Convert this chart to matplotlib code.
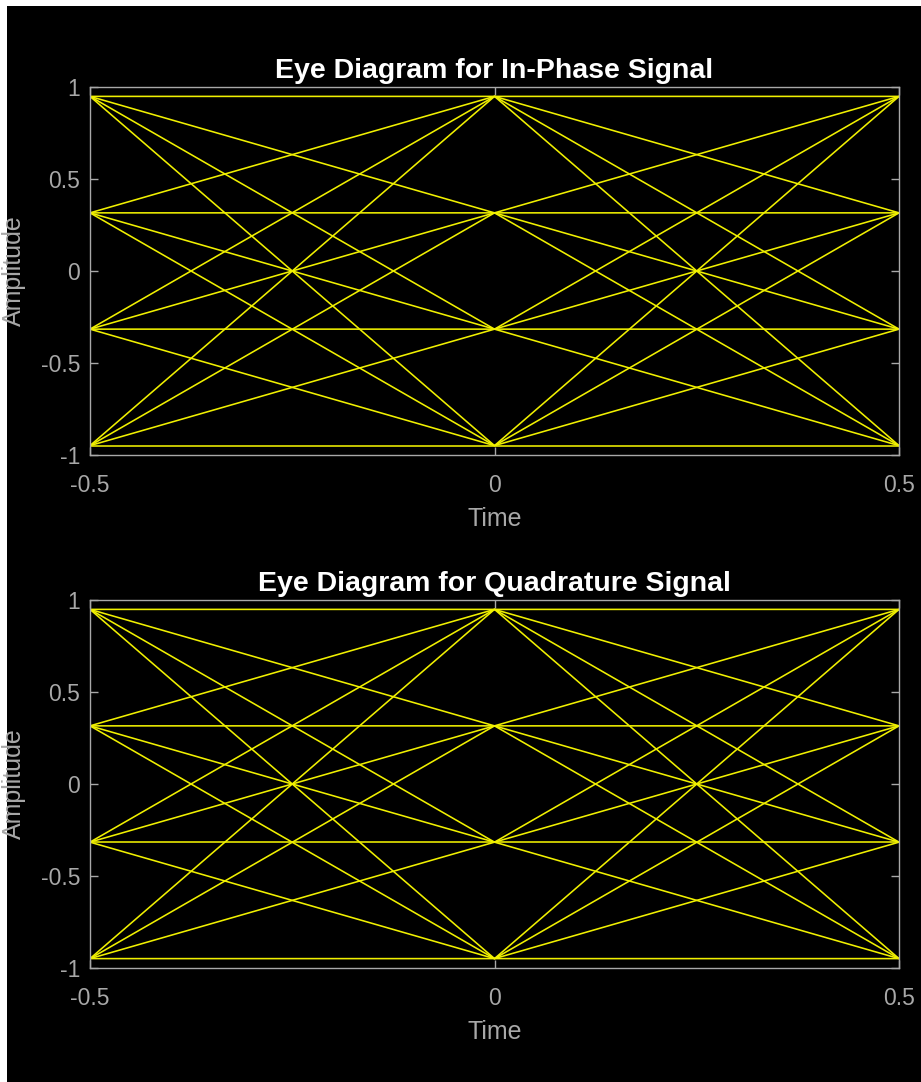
import matplotlib
matplotlib.use("Agg")
import matplotlib.pyplot as plt
from matplotlib.patches import Rectangle

# ---- data ----
time = [-0.5, 0.0, 0.5]
levels = [-0.949, -0.316, 0.316, 0.949]
# each trace: symbol indices at t=-0.5, t=0, t=0.5
traces_i = [
    (0, 0, 0), (1, 0, 1), (2, 0, 2), (3, 0, 3),
    (0, 1, 1), (1, 1, 2), (2, 1, 3), (3, 1, 0),
    (0, 2, 2), (1, 2, 3), (2, 2, 0), (3, 2, 1),
    (0, 3, 3), (1, 3, 0), (2, 3, 1), (3, 3, 2),
]
traces_q = [
    (0, 0, 3), (1, 0, 2), (2, 0, 1), (3, 0, 0),
    (0, 1, 2), (1, 1, 1), (2, 1, 0), (3, 1, 3),
    (0, 2, 1), (1, 2, 0), (2, 2, 3), (3, 2, 2),
    (0, 3, 0), (1, 3, 3), (2, 3, 2), (3, 3, 1),
]
titles = ["Eye Diagram for In-Phase Signal", "Eye Diagram for Quadrature Signal"]
xticks = [-0.5, 0, 0.5]
xticklabels = ["-0.5", "0", "0.5"]
yticks = [-1, -0.5, 0, 0.5, 1]
yticklabels = ["-1", "-0.5", "0", "0.5", "1"]

W, H = 921, 1082
fig = plt.figure(figsize=(W / 100, H / 100), dpi=100, facecolor="white")
fig.patches.append(Rectangle((7 / W, 0), 1, 1 - 6 / H, transform=fig.transFigure,
                             facecolor="black", edgecolor="none", zorder=-10))

font = ["Liberation Sans", "DejaVu Sans"]
gray = "#A8A8A8"
yellow = "#F0F000"

boxes = [(87, 455), (600, 968)]
for (top, bot), title, traces in zip(boxes, titles, [traces_i, traces_q]):
    ax = fig.add_axes([90 / W, 1 - bot / H, (899 - 90) / W, (bot - top) / H])
    ax.set_facecolor("black")
    for tr in traces:
        ax.plot(time, [levels[k] for k in tr], color=yellow, lw=1.15, solid_capstyle="butt")
    ax.set_xlim(-0.5, 0.5)
    ax.set_ylim(-1, 1)
    ax.set_xticks(xticks)
    ax.set_xticklabels(xticklabels)
    ax.set_yticks(yticks)
    ax.set_yticklabels(yticklabels)
    for s in ax.spines.values():
        s.set_color(gray)
        s.set_linewidth(1.0)
    ax.tick_params(direction="in", length=6, width=1.0, color=gray, labelcolor=gray,
                   labelsize=16.5, top=True, right=True)
    ax.tick_params(axis="x", pad=14)
    ax.tick_params(axis="y", pad=7)
    for lbl in ax.get_xticklabels() + ax.get_yticklabels():
        lbl.set_family(font)
    ax.set_title(title, color="white", fontsize=20.5, fontweight="bold", family=font, pad=6.5)
    ax.set_xlabel("Time", color=gray, fontsize=18, family=font, labelpad=7)
    ax.set_ylabel("Amplitude", color=gray, fontsize=18, family=font)
    ax.yaxis.set_label_coords(-0.079, 0.5)

fig.savefig("out.png", dpi=100, facecolor=fig.get_facecolor())
